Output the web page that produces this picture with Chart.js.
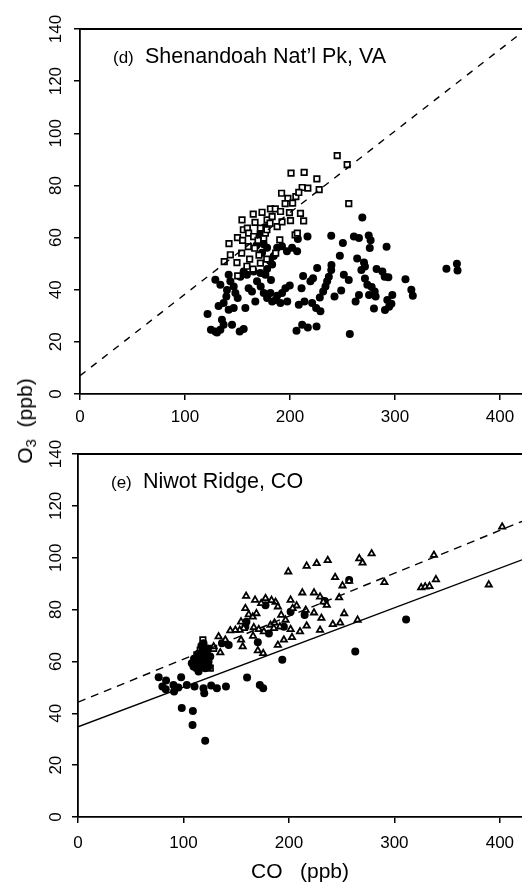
<!DOCTYPE html>
<html>
<head>
<meta charset="utf-8">
<script src="https://cdn.jsdelivr.net/npm/chart.js@4.4.1/dist/chart.umd.min.js"></script>
<style>
    body { margin: 0; background: #fff; }
    #wrap { position: relative; width: 522px; height: 885px; background: #fff; overflow: hidden; }
    canvas { position: absolute; left: 0; }
    #yTitle {
        position: absolute; left: 25px; top: 421px;
        transform: translate(-50%, -50%) rotate(-90deg);
        font: 21px "Liberation Sans", Arial, sans-serif; color: #000; white-space: pre;
    }
    #yTitle sub { font-size: 15px; vertical-align: -4px; line-height: 0; }
</style>
</head>
<body>
<div id="wrap">
    <canvas id="chartD" width="522" height="437" style="top:0"></canvas>
    <canvas id="chartE" width="522" height="448" style="top:437px"></canvas>
    <div id="yTitle">O<sub>3</sub>  (ppb)</div>
</div>
<script>
// (d) Shenandoah - open squares
const shenSquareCO = [245, 254.5, 201, 213.5, 225.6, 227.8, 217, 211.6, 256, 192, 198, 205.6, 202.5, 195.4, 208.4,
    181.4, 186, 173.4, 165, 191, 199.5, 210, 213, 200.5, 154.3, 155.6, 159.4, 166.7, 178.2, 183, 187.8, 192.4,
    150, 154.9, 160.6, 165.4, 175, 204.9, 207, 141.9, 160.3, 166.4, 190.3, 169.6, 154, 143.2, 161.6, 170.5,
    177.9, 186.4, 137.4, 149.5, 159, 150.2, 164.8, 171.8, 176.6, 171.8, 178, 181];
const shenSquareO3 = [91.4, 88, 84.7, 85, 82.5, 78.4, 79, 79.2, 73, 77, 75, 75.7, 73.2, 73, 77.3,
    71, 71, 69.7, 69, 70, 69.6, 69.3, 66.4, 66.5, 66.8, 63, 63.6, 65.8, 66.8, 68, 64.2, 66,
    60, 58.9, 61.7, 60.4, 59.8, 61, 61.7, 57.7, 56.5, 55.9, 59.1, 58.9, 54, 53.4, 51.7, 53.3,
    51.7, 54, 50.8, 50.4, 49, 45.3, 47.9, 50.2, 61.7, 63.6, 63, 65.5];

// (d) Shenandoah - filled circles
const shenCircleCO = [268.9, 310, 349, 359, 359.6, 315.6, 317, 257, 275, 276.8, 276, 292, 260.9, 265.7, 239.3, 250.4,
    216.7, 207.5, 247.5, 264, 270.5, 271.4, 268, 282.5, 288, 290.2, 293.7, 271.4, 273.7, 277.8, 280.7, 275.3,
    281.6, 265.7, 262.5, 256, 251.3, 248.8, 242.4, 239.5, 239.3, 237, 235.4, 233.8, 231.6, 228.4, 225.9, 222,
    219.5, 212.5, 211, 213.8, 208.4, 221.1, 224.9, 229, 225.3, 217, 211.6, 206.2, 280, 290.5, 294.4, 296.6,
    297.5, 292.7, 199.8, 195.7, 192.5, 187.8, 197.4, 190.9, 183, 178.2, 175, 181.4, 186.4, 172.1, 168.6, 181.9,
    176.6, 171.8, 165.4, 159, 155.9, 152.7, 160.6, 163.8, 167, 157.5, 150.2, 148, 146.4, 143.2, 141.6, 140,
    139.4, 136.8, 132, 128.9, 133.7, 141.6, 146.4, 135.2, 136.8, 144.8, 121.5, 124.7, 128.9, 133.7, 130.5, 152.1,
    155.9, 178.2, 183, 184.6, 187.8, 192.4, 197.1, 202, 206.8, 178.2, 175, 173.4, 181, 172, 176, 170, 174, 168];
const shenCircleO3 = [67.7, 44, 48, 50, 47.4, 40, 37.7, 23, 60.8, 59, 56, 56.5, 60.4, 59.8, 60.7, 57.9,
    60.4, 59.5, 53, 52, 50.4, 48.9, 47.6, 47.9, 47, 45, 44.8, 44.3, 41.9, 41, 39.3, 38,
    37.4, 38, 35.5, 43.7, 45.7, 39.7, 37.4, 49.5, 47.6, 45, 43.2, 41.2, 39.3, 37, 48.3, 44.4,
    43.2, 45.3, 40.6, 35.5, 34.2, 34.9, 33, 31.7, 25.9, 25.5, 26.6, 24.3, 32.8, 32.2, 33.5, 34.6,
    38, 36.1, 41.6, 40.6, 38.7, 37.7, 35.5, 34.9, 35.5, 36.8, 38.7, 38.7, 36.1, 41.2, 43.2, 43.7,
    45.7, 46.4, 47, 45.7, 47, 45, 40.6, 39.3, 35.5, 33, 36.8, 38.7, 41.2, 43.2, 45.7, 39.9,
    37.4, 34.9, 33.8, 43.8, 41.9, 32.3, 33, 28.5, 26.6, 26.6, 30.7, 24.6, 24, 24.6, 23.6, 24,
    24.9, 47.9, 49.7, 52.9, 56.1, 56.7, 54.8, 56.1, 54.8, 56.1, 57.4, 54.2, 51, 62, 64, 60, 58.5, 57];

// (e) Niwot Ridge - open triangles
const niwotTriCO = [402.2, 389.5, 337.5, 339.4, 325.4, 329.2, 333.3, 290.5, 278.4, 266.7, 269.8, 236.8, 226.3, 216.8,
    199.4, 243.8, 250.8, 257.1, 212.7, 223.8, 229.5, 232.7, 235.9, 247.6, 252.4, 265.1, 241.6, 248.6, 230.8,
    229.5, 223.8, 215.9, 216.8, 210.5, 207.3, 201.6, 203.5, 201.6, 202.9, 195.2, 189.5, 196.8, 192.7, 187.3,
    183.5, 189.5, 177.8, 173.7, 167.9, 159.4, 158.7, 161.9, 165.7, 169.2, 154.6, 157.1, 153.3, 149.2, 144.4,
    154.6, 156.2, 166.7, 171.4, 166, 176.2, 170.5, 175.6, 182.5, 185.7, 186.3, 191.4, 134.9, 133.3, 139.7, 128.6];
const niwotTriO3 = [111.9, 89.6, 101, 91.6, 88.5, 88.8, 89, 90.5, 101.6, 99.7, 98, 99, 97.8, 96.8,
    94.6, 92.4, 89.2, 91, 86.5, 86.5, 84.9, 83, 81.7, 84.6, 78.5, 76, 74.3, 74.9, 76.7,
    72.1, 78.8, 79.8, 73.7, 71.5, 81.5, 83.7, 80.5, 72.4, 69.3, 68.3, 66.3, 76, 77.9, 82.9,
    83.6, 81.1, 84.3, 82.4, 83.7, 85.2, 80.5, 78.1, 77.2, 78.5, 75.3, 72.8, 72.1, 72.1, 71.9,
    68.3, 65.7, 73.1, 72.4, 69.8, 71.5, 64.2, 63.1, 74, 72.8, 74.9, 73.4, 63.4, 69.6, 68.3, 65.7];

// (e) Niwot Ridge - filled circles
const niwotCircleCO = [311.1, 262.9, 193.7, 160.3, 172.4, 175.6, 120.6, 108.6, 108.9, 98.4, 97.8, 76.5, 83.5, 80, 83.2,
    90.5, 91.1, 95.2, 103.2, 110.5, 119, 119.7, 126.3, 131.7, 140.3, 142.9, 136.5, 170.5, 158.7, 159.7, 181,
    177.8, 214.9, 201.6, 234, 257.1, 195.2, 109.5, 112.7, 115.9, 117.5, 120.6, 122.2, 123.8, 114.3, 119, 125.4,
    107.9, 114, 118, 121, 116, 112, 119, 123, 117, 110, 124];
const niwotCircleO3 = [76.2, 63.8, 60.6, 53.8, 50.9, 49.7, 29.4, 35.5, 40.9, 42, 53.9, 53.9, 52.6, 50.3, 49.3,
    50.9, 48.4, 49.9, 50.9, 50.3, 49.7, 47.7, 50.7, 49.7, 50.3, 66.3, 67, 67.4, 73.4, 75.3, 70.8,
    81.7, 77.9, 79.2, 83.3, 91.4, 73.4, 58, 60.6, 59.3, 61.2, 57.4, 63.1, 59.9, 56.1, 67, 61.9,
    59.3, 63, 64, 62, 58, 57.5, 60, 65, 66, 61, 58];

// (e) Niwot Ridge - open squares
const niwotSquareCO = [118.4, 125.4, 112.7, 115.9, 128.6, 111.1];
const niwotSquareO3 = [68.3, 57.4, 62.5, 64.4, 65, 59.9];

// fitted lines, read at the ends of the axis
const lineCO = [0, 421];
const shenDashedO3 = [7, 138.7];
const niwotDashedO3 = [44.3, 114];
const niwotSolidO3 = [34.8, 99.2];

const xTicks = [0, 100, 200, 300, 400];
const yTicks = [0, 20, 40, 60, 80, 100, 120, 140];

const FONT = '"Liberation Sans", Arial, Helvetica, sans-serif';

function toPoints(xs, ys) {
    return xs.map((x, i) => ({ x: x, y: ys[i] }));
}

function markers(xs, ys, style, filled, radius, border) {
    return {
        data: toPoints(xs, ys),
        pointStyle: style,
        pointRadius: radius,
        pointHoverRadius: radius,
        pointBorderWidth: filled ? 0 : border,
        pointBorderColor: '#000',
        pointBackgroundColor: filled ? '#000' : '#fff',
        showLine: false
    };
}

function fitLine(ys, dash) {
    return {
        data: toPoints(lineCO, ys),
        showLine: true,
        pointRadius: 0,
        borderColor: '#000',
        borderWidth: 1.4,
        borderDash: dash,
        fill: false
    };
}

// panel label, top frame line and rotated y tick labels
const panelDecor = {
    id: 'panelDecor',
    afterDraw(chart, args, opts) {
        const ctx = chart.ctx;
        const area = chart.chartArea;
        ctx.save();
        ctx.strokeStyle = '#000';
        ctx.lineWidth = 1.8;
        ctx.beginPath();
        ctx.moveTo(area.left, area.top);
        ctx.lineTo(chart.width, area.top);
        ctx.stroke();

        ctx.fillStyle = '#000';
        ctx.textBaseline = 'alphabetic';
        ctx.textAlign = 'left';
        ctx.font = '17px ' + FONT;
        ctx.fillText(opts.tag, area.left + 33, area.top + 34);
        ctx.font = '21.5px ' + FONT;
        ctx.fillText(opts.text, area.left + 65, area.top + 34);

        const yScale = chart.scales.y;
        ctx.font = '17px ' + FONT;
        ctx.textAlign = 'center';
        ctx.textBaseline = 'middle';
        yTicks.forEach(v => {
            ctx.save();
            ctx.translate(56, yScale.getPixelForValue(v));
            ctx.rotate(-Math.PI / 2);
            ctx.fillText(String(v), 0, 0);
            ctx.restore();
        });
        ctx.restore();
    }
};

function makePanel(id, datasets, opts) {
    return new Chart(document.getElementById(id), {
        type: 'scatter',
        data: { datasets: datasets },
        plugins: [panelDecor],
        options: {
            responsive: false,
            animation: false,
            devicePixelRatio: 1,
            layout: {
                autoPadding: false,
                padding: { top: opts.top, left: 0, right: 0, bottom: opts.bottom }
            },
            plugins: {
                legend: { display: false },
                tooltip: { enabled: false },
                panelDecor: { tag: opts.tag, text: opts.text }
            },
            scales: {
                x: {
                    type: 'linear',
                    min: 0,
                    max: 421,
                    afterBuildTicks: s => { s.ticks = xTicks.map(v => ({ value: v })); },
                    afterFit: s => {
                        s.height = opts.xHeight;
                        s.paddingLeft = 0;
                        s.paddingRight = 0;
                    },
                    grid: { display: true, drawOnChartArea: false, drawTicks: true, tickLength: 6, color: '#000', lineWidth: 1.5 },
                    border: { display: true, color: '#000', width: 1.8 },
                    ticks: { color: '#000', font: { family: FONT, size: 17 }, padding: opts.tickPad, maxRotation: 0, autoSkip: false },
                    title: {
                        display: !!opts.xTitle,
                        text: opts.xTitle || '',
                        color: '#000',
                        font: { family: FONT, size: 21 },
                        padding: { top: 0, bottom: 0 }
                    }
                },
                y: {
                    type: 'linear',
                    min: 0,
                    max: 140,
                    afterBuildTicks: s => { s.ticks = yTicks.map(v => ({ value: v })); },
                    afterFit: s => {
                        s.width = opts.yWidth;
                        s.paddingTop = 0;
                        s.paddingBottom = 0;
                    },
                    grid: { display: true, drawOnChartArea: false, drawTicks: true, tickLength: 6, color: '#000', lineWidth: 1.5 },
                    border: { display: true, color: '#000', width: 1.8 },
                    ticks: { display: false }
                }
            }
        }
    });
}

makePanel('chartD', [
    fitLine(shenDashedO3, [7, 7]),
    markers(shenSquareCO, shenSquareO3, 'rect', false, 3.9, 1.7),
    markers(shenCircleCO, shenCircleO3, 'circle', true, 4, 0)
], { top: 29, bottom: 13, xHeight: 30, yWidth: 80, tickPad: 7, tag: '(d)', text: 'Shenandoah Nat\u2019l Pk, VA' });

makePanel('chartE', [
    fitLine(niwotDashedO3, [8, 6]),
    fitLine(niwotSolidO3, []),
    markers(niwotTriCO, niwotTriO3, 'triangle', false, 3.6, 1.8),
    markers(niwotCircleCO, niwotCircleO3, 'circle', true, 4, 0),
    markers(niwotSquareCO, niwotSquareO3, 'rect', false, 3.9, 1.7)
], { top: 17, bottom: 0, xHeight: 68, yWidth: 78, tickPad: 10, tag: '(e)', text: 'Niwot Ridge, CO', xTitle: 'CO   (ppb)' });
</script>
</body>
</html>
